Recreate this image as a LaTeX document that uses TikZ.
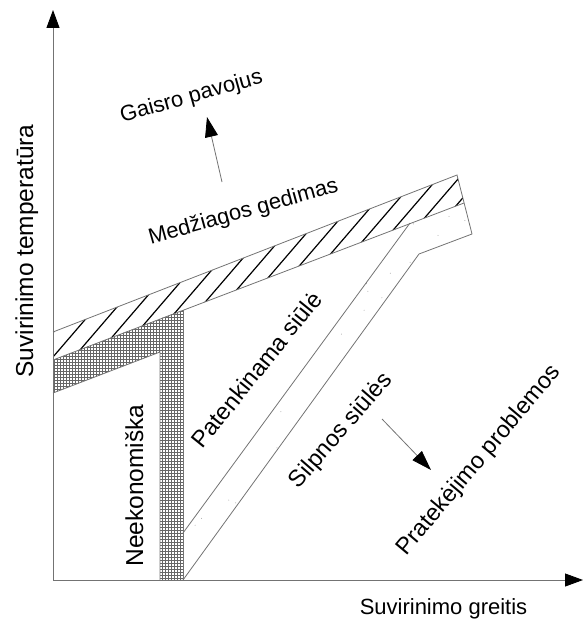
\documentclass[tikz,border=0pt]{standalone}
\usepackage{fontspec}
\setmainfont{Liberation Sans}
\usetikzlibrary{arrows.meta,patterns}

\begin{document}
\begin{tikzpicture}[x=1pt,y=-1pt,
outline/.style={draw=black!55,line width=0.8pt},
hatchline/.style={line width=1.2pt},
axis/.style={draw=black!55,line width=0.9pt,-{Triangle[length=18pt,width=13pt,black]}},
pointer/.style={draw=black!55,line width=0.8pt,-{Triangle[length=20pt,width=13pt,black]}},
txt/.style={font=\fontsize{22}{26}\selectfont,anchor=base,inner sep=0pt},
slanttxt/.style={font=\fontsize{23.5}{28}\selectfont,anchor=base,inner sep=0pt},
vtxt/.style={font=\fontsize{24.5}{29}\selectfont,anchor=base,inner sep=0pt,rotate=90}]
\useasboundingbox (0,0) rectangle (586,620);
% Let us start with the corners of the regions:
\coordinate (origin) at (53,580);
\coordinate (y tip) at (53,10);
\coordinate (x tip) at (583,580);
\coordinate (hatch tl) at (53,332);
\coordinate (hatch tr) at (457,175);
\coordinate (hatch br) at (464,203);
\coordinate (hatch bl) at (53,360);
\coordinate (column top) at (183,310);
\coordinate (column br) at (183,580);
\coordinate (column bl) at (160,580);
\coordinate (column knee) at (160,352);
\coordinate (net bl) at (53,393);
\coordinate (weld tl) at (183,533);
\coordinate (weld top) at (410,223);
\coordinate (weld r) at (472,234);
\coordinate (weld knee) at (419,254);
\coordinate (fire from) at (222,182);
\coordinate (fire to) at (207,117);
\coordinate (weak from) at (382,419);
\coordinate (weak to) at (431,470);
% the cross hatched column
\fill[pattern=grid,pattern color=black!60] (hatch bl) -- (column top) -- (column br)
-- (column bl) -- (column knee) -- (net bl) -- cycle;
% the hatched band
\begin{scope}
\clip (hatch tl) -- (hatch tr) -- (hatch br) -- (hatch bl) -- cycle;
\foreach \k in {-8,...,22}
\draw[hatchline] ({16+21*\k},400) -- ++(215,-250);
\end{scope}
% the dotted band
\begin{scope}
\clip (weld tl) -- (weld top) -- (hatch br) -- (weld r) -- (weld knee) -- (column br) -- cycle;
\pgfmathsetseed{3}
\foreach \i in {1,...,160}
{
\pgfmathsetmacro{\dotx}{183+290*rnd}
\pgfmathsetmacro{\doty}{200+380*rnd}
\fill[black!35] (\dotx,\doty) circle (0.5pt);
}
\end{scope}
\draw[outline] (hatch tl) -- (hatch tr) -- (weld r) -- (weld knee) -- (column br);
\draw[outline] (hatch bl) -- (hatch br);
\draw[outline] (weld tl) -- (weld top);
\draw[outline] (net bl) -- (column knee) -- (column bl);
\draw[outline] (column top) -- (column br);
% axes and arrows
\draw[axis] (origin) -- (y tip);
\draw[axis] (origin) -- (x tip);
\draw[pointer] (fire from) -- (fire to);
\draw[pointer] (weak from) -- (weak to);
% texts
\node[txt,rotate=15.6] (fire) at (193,102.5) {Gaisro pavojus};
\node[txt,rotate=15.6] (failure) at (245,218) {Medžiagos gedimas};
\node[slanttxt,rotate=51] (good) at (263,375) {Patenkinama siūlė};
\node[slanttxt,rotate=49] (weak) at (346,435) {Silpnos siūlės};
\node[slanttxt,rotate=50] (burn) at (484,464) {Pratekėjimo problemos};
\node[vtxt] (waste) at (143,485.5) {Neekonomiška};
\node[vtxt] (temp) at (33,251) {Suvirinimo temperatūra};
\node[txt] (speed) at (443.5,614) {Suvirinimo greitis};
\end{tikzpicture}
\end{document}
